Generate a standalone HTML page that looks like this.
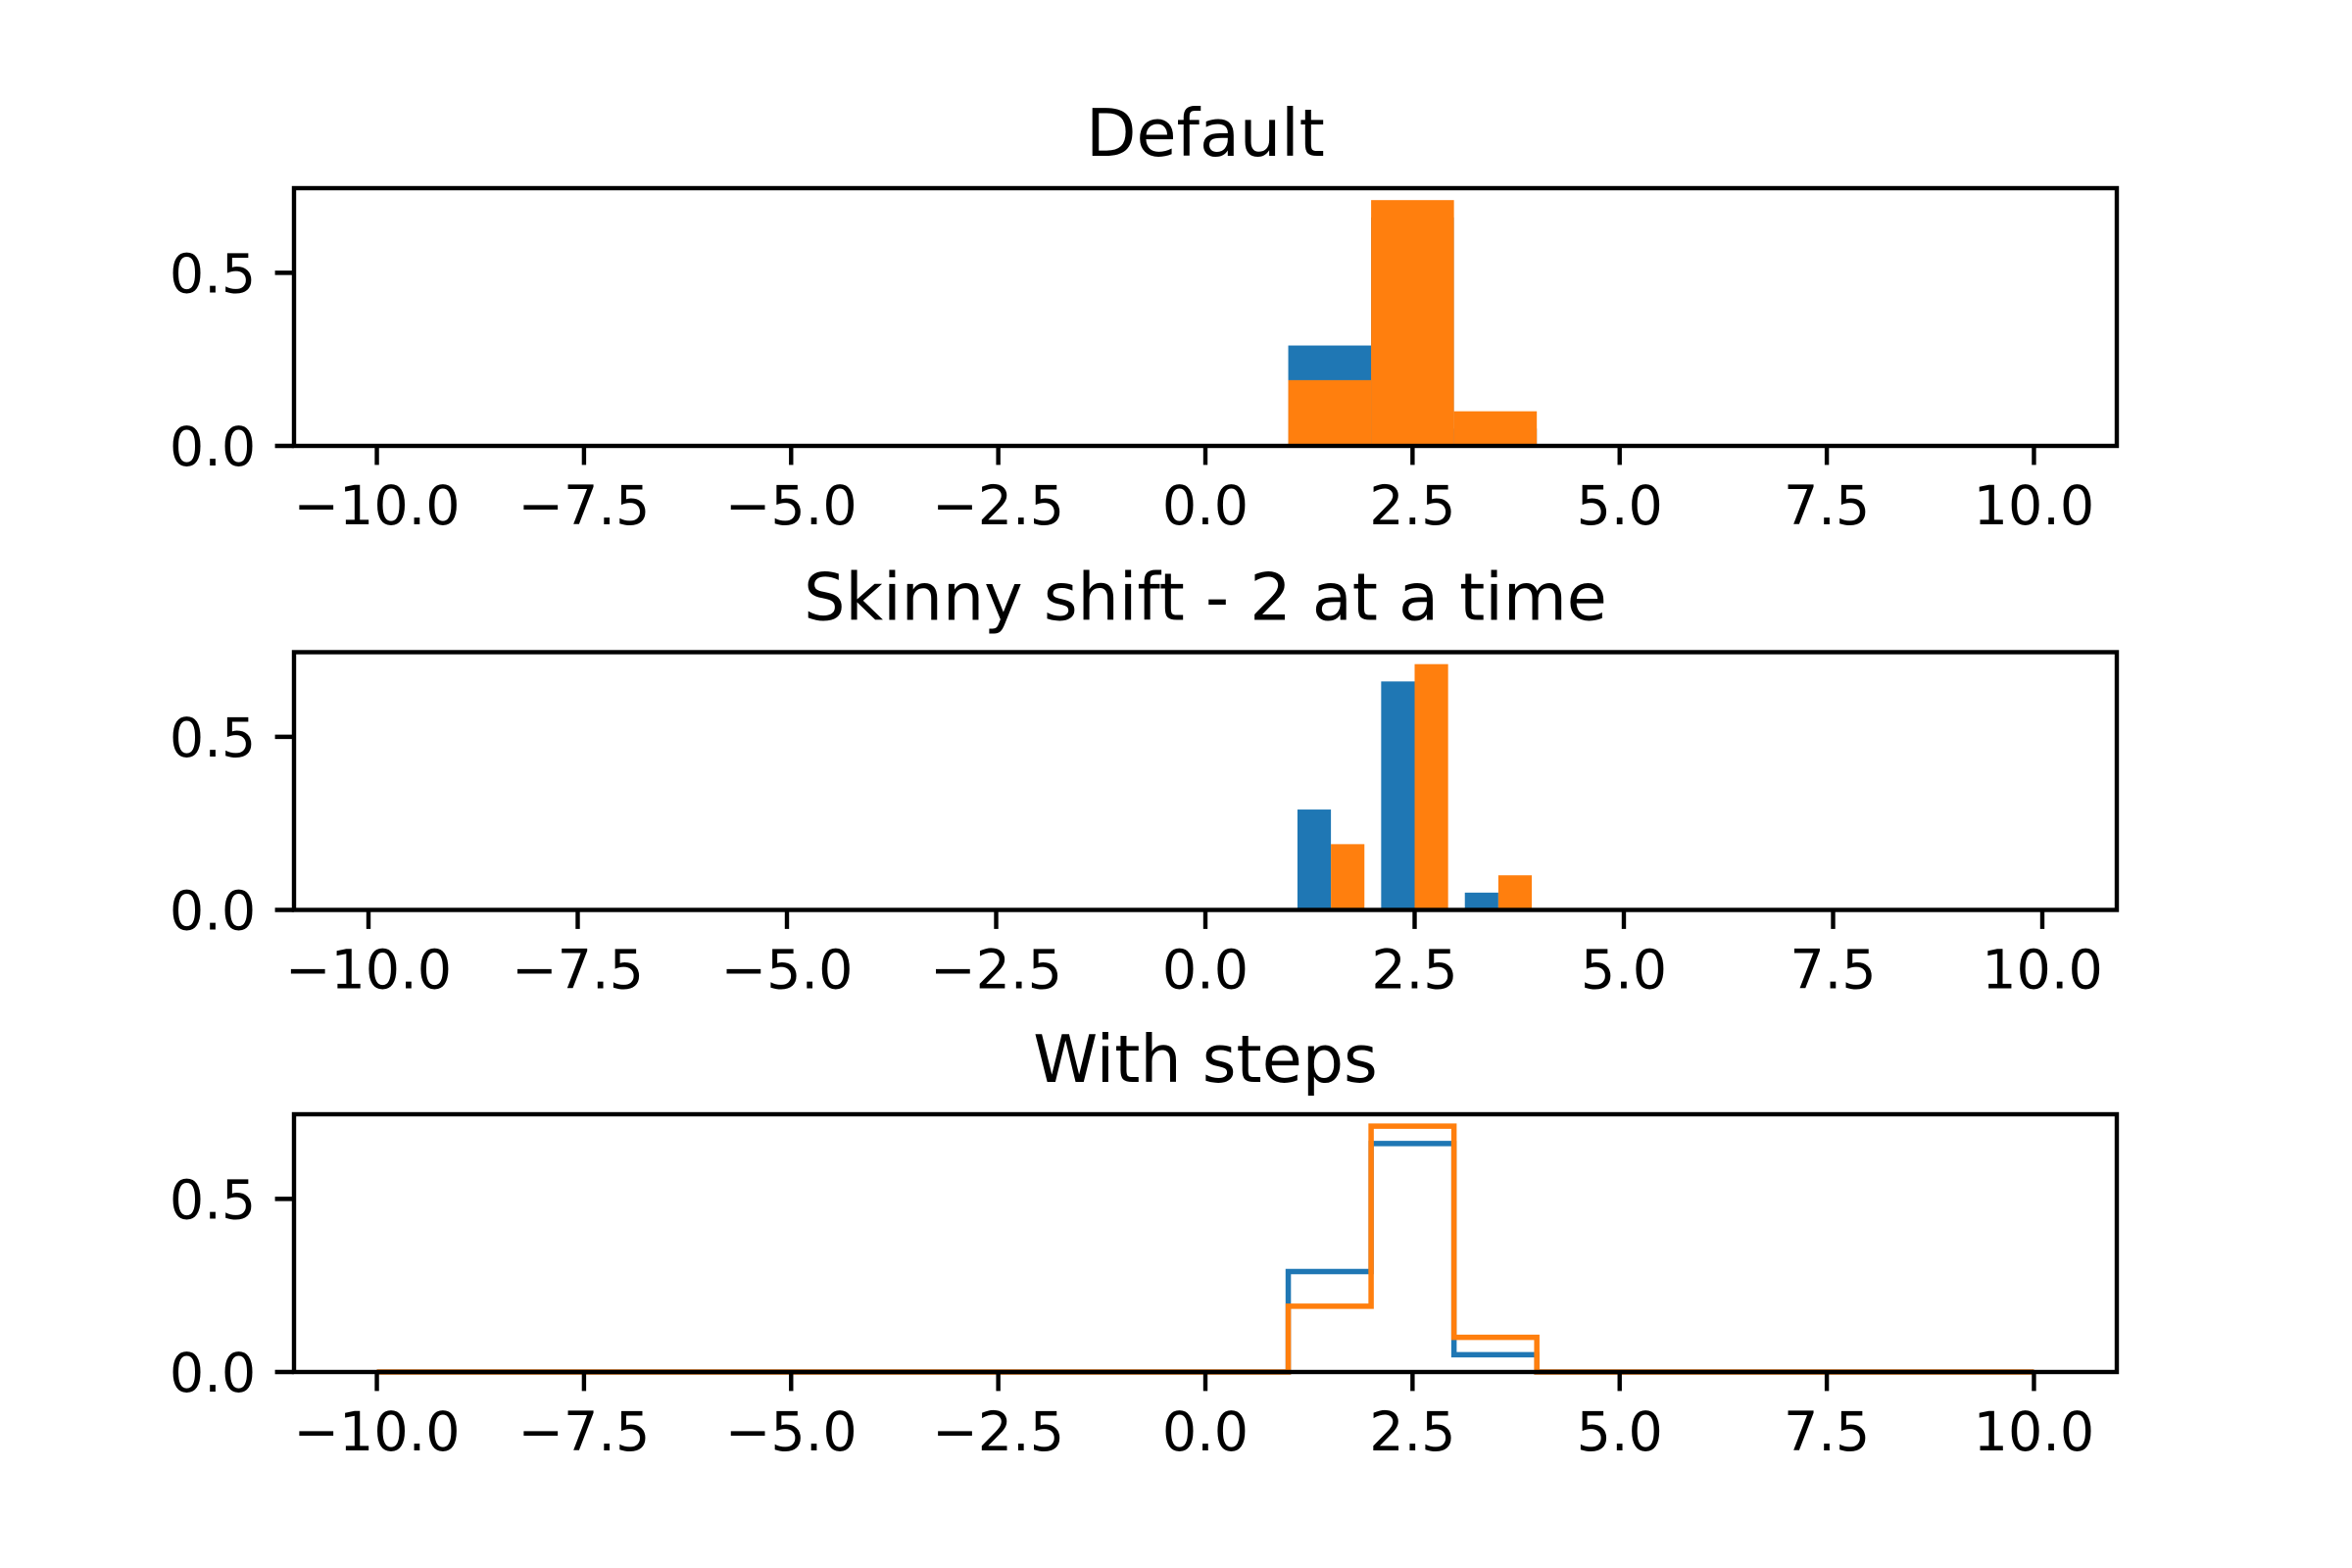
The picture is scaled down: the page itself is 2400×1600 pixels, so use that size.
<!DOCTYPE html>
<html><head><meta charset="utf-8"><style>html,body{margin:0;padding:0;background:#fff}svg{display:block}</style></head>
<body>
<svg id="fig" width="2400" height="1600" xmlns="http://www.w3.org/2000/svg" font-family="DejaVu Sans, Liberation Sans, sans-serif"></svg>
<script>
const binEdges = [-10,-9,-8,-7,-6,-5,-4,-3,-2,-1,0,1,2,3,4,5,6,7,8,9,10];
const blueValues = [0,0,0,0,0,0,0,0,0,0,0,0.29,0.66,0.05,0,0,0,0,0,0];
const orangeValues = [0,0,0,0,0,0,0,0,0,0,0,0.19,0.71,0.10,0,0,0,0,0,0];
const xTickValues = [-10,-7.5,-5,-2.5,0,2.5,5,7.5,10];
const xTickLabels = ["\u221210.0","\u22127.5","\u22125.0","\u22122.5","0.0","2.5","5.0","7.5","10.0"];
const yTickValues = [0,0.5];
const yTickLabels = ["0.0","0.5"];
const titles = ["Default","Skinny shift - 2 at a time","With steps"];
const xLimits = [11,10.89,11];

const NS="http://www.w3.org/2000/svg";
const svg=document.getElementById('fig');
const L=300,R=2160,H=263,tops=[192,665.5,1137];
const yMax=0.7445;
const BLUE="#1f77b4",ORANGE="#ff7f0e";
function mk(tag,attrs,parent){const e=document.createElementNS(NS,tag);for(const k in attrs)e.setAttribute(k,attrs[k]);(parent||svg).appendChild(e);return e;}

titles.forEach((t,i)=>{
  const top=tops[i],bot=top+H;
  const xMin=-xLimits[i],xMax=xLimits[i];
  const xs=v=>L+(v-xMin)/(xMax-xMin)*(R-L);
  const ys=v=>bot-v/yMax*H;
  const g=mk('g',{});
  
  
  const nb=binEdges.length-1;
  if(i===0){
    [[blueValues,BLUE,'blue'],[orangeValues,ORANGE,'orange']].forEach(([vals,col,nm])=>{
      for(let b=0;b<nb;b++){if(vals[b]<=0)continue;
        const r=mk('rect',{x:xs(binEdges[b]),y:ys(vals[b]),width:xs(binEdges[b+1])-xs(binEdges[b]),height:ys(0)-ys(vals[b]),fill:col},g);
        
        }
    });
  } else if(i===1){
    [[blueValues,BLUE,'blue',0],[orangeValues,ORANGE,'orange',1]].forEach(([vals,col,nm,k])=>{
      for(let b=0;b<nb;b++){if(vals[b]<=0)continue;
        const w=binEdges[b+1]-binEdges[b];const x0=binEdges[b]+0.1*w+k*0.4*w;
        const r=mk('rect',{x:xs(x0),y:ys(vals[b]),width:xs(x0+0.4*w)-xs(x0),height:ys(0)-ys(vals[b]),fill:col},g);
        
        }
    });
  } else {
    [[blueValues,BLUE,'blue'],[orangeValues,ORANGE,'orange']].forEach(([vals,col,nm])=>{
      let d='M'+xs(binEdges[0])+','+ys(0);
      for(let b=0;b<nb;b++){d+=' L'+xs(binEdges[b])+','+ys(vals[b])+' L'+xs(binEdges[b+1])+','+ys(vals[b]);}
      d+=' L'+xs(binEdges[nb])+','+ys(0);
      const p=mk('path',{d:d,fill:'none',stroke:col,'stroke-width':5.5,'stroke-linejoin':'miter'},g);
      
      
    });
  }
  const fr=mk('rect',{x:L,y:top,width:R-L,height:H,fill:'none',stroke:'#000','stroke-width':4.4},g);
  
  
  xTickValues.forEach((v,j)=>{
    const x=xs(v);
    const tl=mk('line',{x1:x,x2:x,y1:bot,y2:bot+19.4,stroke:'#000','stroke-width':4.4},g);
    
    
    const tx=mk('text',{x:x,y:bot+80,'font-size':55.5,'text-anchor':'middle',fill:'#000'},g);
    tx.textContent=xTickLabels[j];
    
    
  });
  yTickValues.forEach((v,j)=>{
    const y=ys(v);
    const tl=mk('line',{x1:L-19.4,x2:L,y1:y,y2:y,stroke:'#000','stroke-width':4.4},g);
    
    
    const tx=mk('text',{x:L-38.8,y:y+20,'font-size':55.5,'text-anchor':'end',fill:'#000'},g);
    tx.textContent=yTickLabels[j];
    
    
  });
  const tt=mk('text',{x:(L+R)/2,y:top-33,'font-size':66.7,'text-anchor':'middle',fill:'#000'},g);
  tt.textContent=t;
  
  
});
</script>
</body></html>
